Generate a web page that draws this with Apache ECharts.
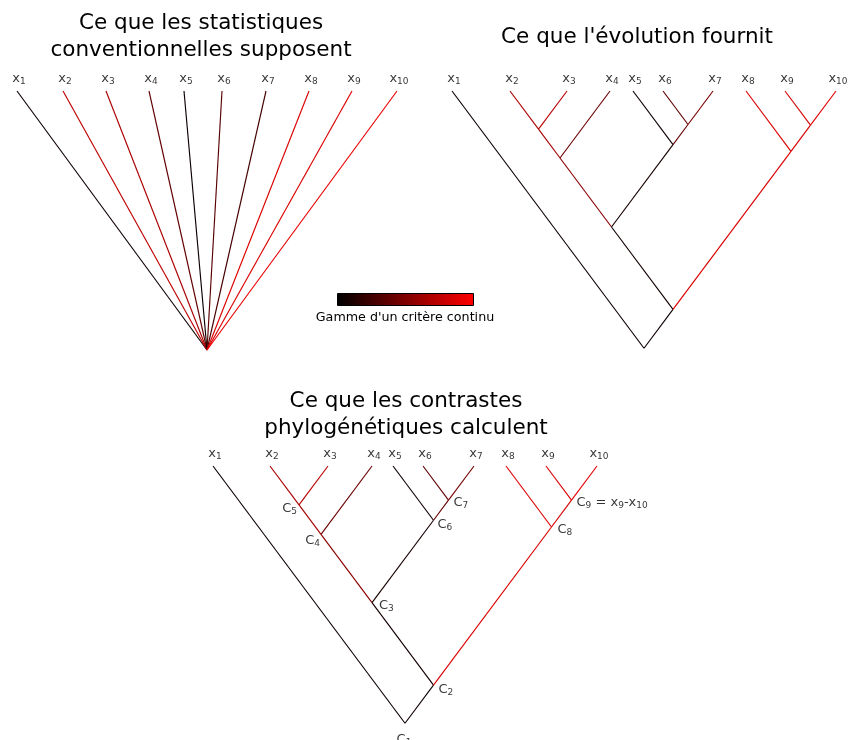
<!DOCTYPE html>
<html>

<head>
  <meta charset="utf-8" />
  <script src="https://cdn.jsdelivr.net/npm/echarts@6/dist/echarts.min.js"></script>
  <style>
    html, body { margin: 0; padding: 0; background: #fff; }
    #chart { width: 848px; height: 740px; }
  </style>
</head>

<body>
  <div id="chart"></div>
  <script type="text/javascript">
    // tip labels (subscripts)
    const tipNames = ['1', '2', '3', '4', '5', '6', '7', '8', '9', '10'];

    // panel 1: star phylogeny, every tip hangs from one root
    const starTipX = [17, 63, 106, 149, 184, 222, 266, 309, 352, 397];
    const starTipY = 91;
    const starRoot = [207, 350];
    const starTrait = [0.06, 0.80, 0.72, 0.42, 0.05, 0.38, 0.30, 0.92, 0.92, 0.98];

    // panels 2 and 3: same tree, tips
    const treeTipX = [452, 510, 567, 610, 633, 663, 713, 746, 785, 836];
    const treeTipY = 91;
    const contrastTipX = [213, 270, 328, 372, 393, 423, 474, 506, 546, 597];
    const contrastTipY = 466;
    const branchSlope = 1.34;

    // (x1, (((x2,x3),x4),(x5,(x6,x7))),(x8,(x9,x10))))  -> internal nodes C1..C9 in preorder
    const topology = [0, [[[[1, 2], 3], [4, [5, 6]]], [7, [8, 9]]]];
    const tipTrait = [0.05, 0.72, 0.78, 0.45, 0.06, 0.40, 0.50, 0.92, 0.90, 0.95];
    const nodeTrait = [0.05, 0.06, 0.08, 0.58, 0.70, 0.10, 0.42, 0.92, 0.90];

    const chart = echarts.init(document.getElementById('chart'));

    function traitColor(t) {
      return 'rgb(' + Math.round(t * 238) + ',0,0)';
    }

    // ultrametric cladogram: node sits where the diagonals from its outer tips meet
    function layoutTree(tipX, tipY, slope) {
      const nodes = [];
      const segs = [];
      let counter = 0;
      function walk(t) {
        if (typeof t === 'number') {
          return { x: tipX[t], y: tipY, lo: tipX[t], hi: tipX[t], trait: tipTrait[t] };
        }
        const id = counter++;
        const me = { id: id, trait: nodeTrait[id] };
        nodes.push(me);
        const a = walk(t[0]);
        const b = walk(t[1]);
        me.lo = a.lo; me.hi = b.hi;
        me.x = (me.lo + me.hi) / 2;
        me.y = tipY + (me.hi - me.lo) / 2 * slope;
        [a, b].forEach(c => segs.push({
          coords: [[me.x, me.y], [c.x, c.y]],
          lineStyle: { color: traitColor(c.trait) }
        }));
        return me;
      }
      walk(topology);
      return { nodes: nodes, segs: segs };
    }

    const starSegs = starTipX.map((x, i) => ({
      coords: [starRoot, [x, starTipY]],
      lineStyle: { color: traitColor(starTrait[i]) }
    }));
    const tree = layoutTree(treeTipX, treeTipY, branchSlope);
    const contrast = layoutTree(contrastTipX, contrastTipY, branchSlope);

    const tipRich = {
      x: { fontSize: 13, color: '#000', fontFamily: 'DejaVu Sans' },
      s: { fontSize: 9, color: '#000', fontFamily: 'DejaVu Sans', padding: [6, 0, 0, 0] }
    };

    function tipLabels(xs, y) {
      return xs.map((x, i) => ({ value: [x, y], name: tipNames[i] }));
    }

    const nodeLabelPlace = [
      { position: 'bottom', offset: [-1, 4] },
      { position: 'right', offset: [0, 5] },
      { position: 'right', offset: [2, 3] },
      { position: 'left', offset: [4, 6] },
      { position: 'left', offset: [3, 4] },
      { position: 'right', offset: [-1, 4] },
      { position: 'right', offset: [0, 2] },
      { position: 'right', offset: [1, 3] },
      { position: 'right', offset: [0, 2] }
    ];

    const nodeLabels = contrast.nodes.map((n, i) => ({
      value: [n.x, n.y],
      label: {
        position: nodeLabelPlace[i].position,
        offset: nodeLabelPlace[i].offset,
        formatter: i === 8
          ? '{x|C}{s|' + (i + 1) + '}{x| = x}{s|9}{x|-x}{s|10}'
          : '{x|C}{s|' + (i + 1) + '}'
      }
    }));

    const titleStyle = { fontFamily: 'DejaVu Sans', fontSize: 21.5, fontWeight: 'normal', color: '#000', lineHeight: 27 };

    const option = {
      animation: false,
      backgroundColor: '#fff',
      title: [
        { text: 'Ce que les statistiques\nconventionnelles supposent', left: 196, top: 5, textAlign: 'center', textStyle: titleStyle },
        { text: "Ce que l'évolution fournit", left: 632, top: 19, textAlign: 'center', textStyle: titleStyle },
        { text: 'Ce que les contrastes\nphylogénétiques calculent', left: 401, top: 383, textAlign: 'center', textStyle: titleStyle }
      ],
      grid: { left: 0, top: 0, width: 848, height: 740 },
      xAxis: { type: 'value', min: 0, max: 848, show: false },
      yAxis: { type: 'value', min: 0, max: 740, inverse: true, show: false },
      graphic: [
        {
          type: 'rect',
          shape: { x: 337.5, y: 293.5, width: 136, height: 12 },
          style: {
            fill: new echarts.graphic.LinearGradient(0, 0, 1, 0, [
              { offset: 0, color: '#000' },
              { offset: 1, color: '#f00' }
            ]),
            stroke: '#000',
            lineWidth: 1
          }
        },
        {
          type: 'text',
          x: 405, y: 318,
          style: {
            text: "Gamme d'un critère continu",
            font: '12.7px "DejaVu Sans"',
            fill: '#000',
            align: 'center',
            verticalAlign: 'middle'
          }
        }
      ],
      series: [
        ...[starSegs, tree.segs, contrast.segs].map(segs => ({
          type: 'lines',
          coordinateSystem: 'cartesian2d',
          silent: true,
          lineStyle: { width: 1.15, opacity: 1 },
          data: segs
        })),
        ...[[starTipX, starTipY], [treeTipX, treeTipY], [contrastTipX, contrastTipY]].map(p => ({
          type: 'scatter',
          symbolSize: 0,
          silent: true,
          data: tipLabels(p[0], p[1]),
          label: {
            show: true,
            position: 'top',
            distance: 5,
            offset: [2, 0],
            formatter: d => '{x|x}{s|' + d.name + '}',
            rich: tipRich
          }
        })),
        {
          type: 'scatter',
          symbolSize: 0,
          silent: true,
          data: nodeLabels,
          label: { show: true, rich: tipRich }
        }
      ]
    };

    chart.setOption(option);
  </script>
</body>

</html>
